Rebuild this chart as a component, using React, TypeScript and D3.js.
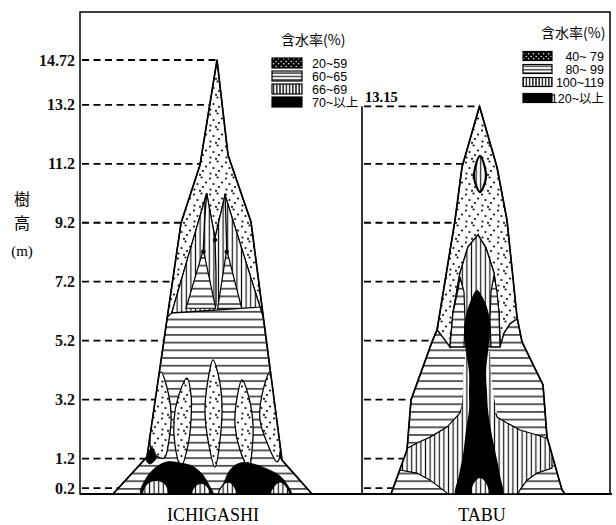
import React from "react";
import * as d3 from "d3";

type P = [number, number]; // [relative crown width unit, height in m]

// ---------- axis / labels ----------
const heightTicks = [0.2, 1.2, 3.2, 5.2, 7.2, 9.2, 11.2, 13.2, 14.72];
const heightTickLabels = ["0.2", "1.2", "3.2", "5.2", "7.2", "9.2", "11.2", "13.2", "14.72"];
const tabuGuides = [0.2, 1.2, 3.2, 5.2, 7.2, 9.2, 11.2, 13.15];
const tabuTopLabel = "13.15";
const treeNames = ["ICHIGASHI", "TABU"];
const yTitle = ["樹", "高", "(m)"];
const legendTitle = "含水率(%)";
const ichiLegend = ["20~59", "60~65", "66~69", "70~以上"];
const tabuLegend = ["40~ 79", "80~ 99", "100~119", "120~以上"];
const legendFills = ["dots", "hlines", "vlines", "solid"];

// ---------- ICHIGASHI ----------
const ichiLeft: P[] = [[-10.3, 0], [-6.9, 1.26], [-3.5, 9.19], [-1.6, 11.16], [0.1, 14.72]];
const ichiRight: P[] = [[9.6, 0], [6.6, 1.15], [4.9, 5.56], [3.5, 9.23], [1.2, 11.5], [0.1, 14.72]];
const ichiCrownDots: P[] = [
  [0.1, 14.72], [1.2, 11.5], [3.5, 9.23], [4.75, 5.97], [4.4, 6.34], [0.9, 10.14], [-0.1, 8.68],
  [-0.93, 10.2], [-4.43, 6.14], [-4.87, 6.0], [-3.5, 9.19], [-1.6, 11.16],
];
const ichiCrownVert: P[] = [[-0.93, 10.2], [-0.1, 8.68], [0.9, 10.14], [4.4, 6.34], [-4.43, 6.14]];
const ichiCrownHoriz: P[][] = [
  [[-1.27, 8.28], [-3.0, 6.3], [-0.03, 6.3]],
  [[1.07, 8.28], [0.17, 6.3], [2.57, 6.3]],
];
const ichiCrownStreaks: P[][] = [
  [[-0.93, 10.2], [-1.15, 9.2], [-1.27, 8.28]],
  [[0.9, 10.14], [1.0, 9.2], [1.07, 8.28]],
  [[-0.1, 8.68], [0.0, 7.5], [0.0, 6.38]],
];
const ichiCrownKnots: P[] = [[-1.27, 8.22], [1.07, 8.22], [-0.1, 8.62]];
const ichiFlames: P[][] = [
  [[-5.5, 4.14], [-4.9, 3.6], [-4.5, 2.78], [-4.7, 1.83], [-5.2, 1.22], [-6.4, 1.42], [-6.6, 2.17], [-6.2, 3.19]],
  [[-2.9, 3.93], [-2.5, 3.36], [-2.5, 2.51], [-2.8, 1.66], [-3.5, 0.92], [-4.1, 1.66], [-4.2, 2.51], [-3.8, 3.26]],
  [[-0.3, 4.55], [0.3, 3.93], [0.6, 3.02], [0.4, 1.83], [-0.1, 0.92], [-0.8, 1.83], [-1.1, 2.85], [-0.8, 3.87]],
  [[2.6, 3.87], [3.3, 3.26], [3.7, 2.34], [3.6, 1.49], [3.3, 0.88], [2.4, 1.49], [1.9, 2.34], [2.1, 3.26]],
  [[5.4, 4.14], [5.9, 3.36], [6.3, 2.34], [6.5, 1.49], [6.1, 1.09], [5.2, 1.66], [4.4, 2.51], [4.6, 3.36]],
];
const ichiBaseBlack: P[][] = [
  [[-7.5, 0], [-7.1, 0.47], [-6.1, 0.88], [-4.9, 1.09], [-3.6, 1.05], [-2.4, 0.95], [-1.4, 0.68], [-0.6, 0.24], [-0.3, 0]],
  [[0.6, 0], [0.9, 0.47], [1.5, 0.85], [2.4, 1.05], [3.7, 1.02], [5.1, 0.85], [6.4, 0.61], [7.2, 0.27], [7.5, 0]],
  [[-7.0, 1.15], [-6.4, 1.56], [-6.0, 1.22], [-6.6, 1.02]],
  [[6.4, 1.22], [6.7, 1.83], [7.0, 1.42], [6.8, 1.15]],
];
const ichiBaseVert: P[][] = [
  [[-7.3, 0], [-7.0, 0.31], [-6.4, 0.44], [-5.6, 0.44], [-5.0, 0.31], [-4.8, 0]],
  [[-2.4, 0], [-2.1, 0.27], [-1.5, 0.37], [-0.9, 0.27], [-0.6, 0]],
  [[0.3, 0], [0.6, 0.27], [1.2, 0.41], [1.8, 0.27], [2.0, 0]],
  [[5.5, 0], [5.8, 0.27], [6.4, 0.41], [7.0, 0.27], [7.3, 0]],
];

// ---------- TABU ----------
const tabuLeft: P[] = [[-8.8, 0], [-7.2, 1.49], [-6.8, 3.19], [-4.7, 5.16], [-4.2, 5.56], [-2.4, 9.29], [-1.7, 11.09], [0.05, 13.15]];
const tabuRight: P[] = [[8.6, 0], [8.3, 0.14], [6.8, 1.93], [6.4, 3.7], [4.3, 5.16], [3.8, 6.0], [2.8, 9.29], [1.8, 11.09], [0.05, 13.15]];
const tabuCrownDots: P[] = [
  [0.05, 13.15], [1.8, 11.09], [2.8, 9.29], [3.85, 5.96], [3.1, 5.77], [2.5, 5.46], [2.1, 4.99], [2.0, 6.14],
  [1.5, 7.5], [0.7, 8.34], [-0.1, 8.79], [-1.1, 8.38], [-1.9, 7.5], [-2.6, 6.14], [-2.9, 4.99], [-3.5, 5.26],
  [-4.1, 5.53], [-4.2, 5.56], [-2.4, 9.29], [-1.7, 11.09],
];
const tabuLens: P[] = [[0.1, 11.47], [0.6, 11.06], [0.7, 10.72], [0.1, 10.24], [-0.5, 10.72], [-0.4, 11.06]];
const tabuArch: P[] = [[-2.9, 4.99], [-2.6, 6.14], [-1.9, 7.5], [-1.1, 8.38], [-0.1, 8.79], [0.7, 8.34], [1.5, 7.5], [2.0, 6.14], [2.1, 4.99]];
const tabuArchSides: P[][] = [
  [[-1.9, 7.36], [-1.5, 6.85], [-1.4, 5.9], [-1.5, 4.99], [-2.9, 4.99], [-2.6, 6.14], [-2.1, 6.92]],
  [[1.5, 7.43], [1.2, 6.85], [1.1, 5.9], [1.2, 4.99], [2.1, 4.99], [2.0, 6.14], [1.8, 6.85]],
];
const tabuBand: P[] = [
  [-7.9, 1.42], [-6.2, 1.73], [-4.9, 1.93], [-3.2, 2.27], [-1.9, 2.75], [-1.3, 3.43], [1.1, 3.43], [1.8, 2.61],
  [2.8, 2.41], [4.1, 2.17], [5.8, 2.0], [7.3, 1.83], [7.3, 0.88], [5.8, 0.71], [4.8, 0.47], [4.1, 0.14],
  [3.8, -0.05], [-2.9, -0.05], [-3.6, 0.14], [-4.9, 0.47], [-6.2, 0.71], [-7.9, 0.81],
];
const tabuCoreHalo: P[] = [[-1.3, 4.82], [-1.6, 4.14], [-1.6, 3.46], [-1.8, 2.75], [1.8, 2.75], [1.4, 3.46], [1.2, 4.14], [1.1, 4.82]];
const tabuCore: P[] = [
  [-0.2, 6.92], [0.5, 6.58], [1.0, 6.07], [1.1, 5.5], [0.9, 4.82], [0.7, 4.14], [0.8, 3.46], [0.9, 2.85],
  [1.2, 2.17], [1.7, 1.32], [2.1, 0.64], [2.3, -0.1], [-2.3, -0.1], [-2.0, 0.64], [-1.6, 1.32], [-1.3, 2.17],
  [-1.0, 2.85], [-1.0, 3.46], [-1.0, 4.14], [-1.3, 4.82], [-1.5, 5.5], [-1.3, 6.07], [-0.8, 6.58],
];
const tabuCoreGap: P[] = [[-0.7, 0], [-0.5, 0.37], [0.1, 0.54], [0.7, 0.37], [0.9, 0]];

const dotSpots: [number, number][] = [[2, 2.5], [9.5, 1.5], [14, 6.5], [5.5, 8], [11, 11], [2.5, 13.5], [8, 14.8]];

export default function App() {
  const W = 616, H = 525;
  const y = d3.scaleLinear().domain([0, 14.72]).range([494, 60]);
  const xI = d3.scaleLinear().domain([-10, 10]).range([116, 316]);
  const xT = d3.scaleLinear().domain([-10, 10]).range([379, 579]);
  const frameLeft = 80, frameRight = 610, frameTop = 12, base = y(0);
  const tabuAxisX = 362;

  const mk = (x: d3.ScaleLinear<number, number>, curve: d3.CurveFactory = d3.curveLinearClosed) =>
    d3.line<P>().x((d) => x(d[0])).y((d) => y(d[1])).curve(curve);

  const edgeAt = (edge: P[], h: number) => {
    for (let i = 0; i < edge.length - 1; i++) {
      const a = edge[i], b = edge[i + 1];
      if (h >= a[1] && h <= b[1]) return a[0] + ((b[0] - a[0]) * (h - a[1])) / (b[1] - a[1]);
    }
    return edge[edge.length - 1][0];
  };

  const regStyle = {
    dots: { fill: "url(#dt)", stroke: "#000", strokeWidth: 1.3 },
    h: { fill: "url(#hl)", stroke: "#000", strokeWidth: 1.2 },
    v: { fill: "url(#vl)", stroke: "#000", strokeWidth: 1.2 },
    k: { fill: "#000", stroke: "#000", strokeWidth: 0.8 },
  } as const;

  const ichiOutline = [...ichiLeft, ...[...ichiRight].reverse()] as P[];
  const tabuOutline = [...tabuLeft, ...[...tabuRight].reverse()] as P[];
  const LI = mk(xI), LT = mk(xT);
  const CI = mk(xI, d3.curveCatmullRomClosed.alpha(0.5));
  const CT = mk(xT, d3.curveCatmullRomClosed.alpha(0.5));
  const openI = mk(xI, d3.curveLinear);

  const serif = "'Liberation Serif', 'DejaVu Serif', serif";
  const sans = "'Liberation Sans', 'Noto Sans CJK JP', sans-serif";
  const cjk = "'Noto Sans CJK JP', sans-serif";

  const legend = (
    items: string[], tx: number, ty: number, sx: number, sw: number, rows: number[], sh: number,
    textX: number, anchor: "start" | "end"
  ) => (
    <g>
      <text x={tx} y={ty} fontFamily={cjk} fontSize={14} fill="#000">{legendTitle}</text>
      {items.map((t, i) => (
        <g key={t}>
          <rect x={sx} y={rows[i] - sh / 2} width={sw} height={sh}
            fill={legendFills[i] === "dots" ? "url(#dtInv)" : legendFills[i] === "hlines" ? "url(#hlLeg)" : legendFills[i] === "vlines" ? "url(#vlLeg)" : "#000"}
            stroke="#000" strokeWidth={1.2} />
          <text x={textX} y={rows[i] + 4.5} fontFamily={sans} fontSize={12.5} textAnchor={anchor} fill="#000">{t}</text>
        </g>
      ))}
    </g>
  );

  return (
    <svg width={W} height={H} style={{ position: "absolute", left: 0, top: 0, background: "#fff" }}>
      <defs>
        <pattern id="hl" width="8" height="7.7" patternUnits="userSpaceOnUse">
          <rect width="8" height="7.7" fill="#fff" />
          <line x1="0" x2="8" y1="3.8" y2="3.8" stroke="#111" strokeWidth="1.35" />
        </pattern>
        <pattern id="vl" width="4.6" height="8" patternUnits="userSpaceOnUse">
          <rect width="4.6" height="8" fill="#fff" />
          <line x1="2.3" x2="2.3" y1="0" y2="8" stroke="#111" strokeWidth="1.2" />
        </pattern>
        <pattern id="dt" width="16" height="16" patternUnits="userSpaceOnUse">
          <rect width="16" height="16" fill="#fff" />
          {dotSpots.map((d, i) => <circle key={i} cx={d[0]} cy={d[1]} r={1.1} fill="#111" />)}
        </pattern>
        <pattern id="dtInv" width="5" height="5" patternUnits="userSpaceOnUse">
          <rect width="5" height="5" fill="#000" />
          <circle cx="1.2" cy="1.5" r="0.75" fill="#fff" />
          <circle cx="3.6" cy="3.8" r="0.75" fill="#fff" />
        </pattern>
        <pattern id="hlLeg" width="6" height="3.4" patternUnits="userSpaceOnUse">
          <rect width="6" height="3.4" fill="#fff" />
          <line x1="0" x2="6" y1="1.7" y2="1.7" stroke="#000" strokeWidth="1.1" />
        </pattern>
        <pattern id="vlLeg" width="3.2" height="6" patternUnits="userSpaceOnUse">
          <rect width="3.2" height="6" fill="#fff" />
          <line x1="1.6" x2="1.6" y1="0" y2="6" stroke="#000" strokeWidth="1.3" />
        </pattern>
        <clipPath id="clipI"><path d={LI(ichiOutline) || ""} /></clipPath>
        <clipPath id="clipT"><path d={LT(tabuOutline) || ""} /></clipPath>
      </defs>

      {/* frame */}
      <rect x={frameLeft} y={frameTop} width={frameRight - frameLeft} height={base - frameTop} fill="none" stroke="#000" strokeWidth={1.5} />
      <line x1={frameLeft} x2={frameRight + 2} y1={base} y2={base} stroke="#000" strokeWidth={2} />
      <line x1={tabuAxisX} x2={tabuAxisX} y1={y(13.15)} y2={base} stroke="#000" strokeWidth={1.6} />

      {/* y axis labels */}
      {heightTicks.map((h, i) => (
        <text key={h} x={75} y={y(h) + 5.5} textAnchor="end" fontFamily={serif} fontWeight="bold" fontSize={16} fill="#111">
          {heightTickLabels[i]}
        </text>
      ))}
      <text x={22} y={205} textAnchor="middle" fontFamily={cjk} fontSize={16}>{yTitle[0]}</text>
      <text x={22} y={229} textAnchor="middle" fontFamily={cjk} fontSize={16}>{yTitle[1]}</text>
      <text x={22} y={256} textAnchor="middle" fontFamily={serif} fontSize={15}>{yTitle[2]}</text>

      {/* guide dashes */}
      {heightTicks.map((h) => (
        <line key={"gi" + h} x1={frameLeft + 2} x2={xI(edgeAt(ichiLeft, h))} y1={y(h)} y2={y(h)}
          stroke="#000" strokeWidth={1.8} strokeDasharray="7 4.5" />
      ))}
      {tabuGuides.map((h) => (
        <line key={"gt" + h} x1={tabuAxisX + 2} x2={xT(edgeAt(tabuLeft, h))} y1={y(h)} y2={y(h)}
          stroke="#000" strokeWidth={1.8} strokeDasharray="7 4.5" />
      ))}
      <text x={tabuAxisX + 3} y={y(13.15) - 4} fontFamily={serif} fontWeight="bold" fontSize={14.5}>{tabuTopLabel}</text>

      {/* ICHIGASHI */}
      <g>
        <path d={LI(ichiOutline) || ""} {...regStyle.h} />
        <g clipPath="url(#clipI)">
          <path d={LI(ichiCrownDots) || ""} {...regStyle.dots} />
          <path d={LI(ichiCrownVert) || ""} {...regStyle.v} />
          {ichiCrownHoriz.map((p, i) => <path key={i} d={LI(p) || ""} {...regStyle.h} />)}
          {ichiCrownStreaks.map((p, i) => <path key={i} d={openI(p) || ""} fill="none" stroke="#000" strokeWidth={1.3} />)}
          {ichiCrownKnots.map((p, i) => <circle key={i} cx={xI(p[0])} cy={y(p[1])} r={2.2} fill="#000" />)}
          {ichiFlames.map((p, i) => <path key={i} d={CI(p) || ""} {...regStyle.dots} />)}
          {ichiBaseBlack.map((p, i) => <path key={i} d={CI(p) || ""} {...regStyle.k} />)}
          {ichiBaseVert.map((p, i) => <path key={i} d={CI(p) || ""} {...regStyle.v} />)}
        </g>
        <path d={LI(ichiOutline) || ""} fill="none" stroke="#000" strokeWidth={1.7} strokeLinejoin="round" />
      </g>

      {/* TABU */}
      <g>
        <path d={LT(tabuOutline) || ""} {...regStyle.h} />
        <g clipPath="url(#clipT)">
          <path d={LT(tabuCrownDots) || ""} {...regStyle.dots} strokeWidth={1.5} />
          <path d={CT(tabuLens) || ""} {...regStyle.v} strokeWidth={2.2} />
          <path d={LT(tabuArch) || ""} {...regStyle.v} />
          {tabuArchSides.map((p, i) => <path key={i} d={LT(p) || ""} {...regStyle.h} />)}
          <path d={LT(tabuBand) || ""} {...regStyle.v} />
          <path d={LT(tabuCoreHalo) || ""} fill="url(#vl)" stroke="none" />
          <path d={CT(tabuCore) || ""} fill="#000" />
          <path d={CT(tabuCoreGap) || ""} fill="url(#vl)" stroke="none" />
        </g>
        <path d={LT(tabuOutline) || ""} fill="none" stroke="#000" strokeWidth={1.7} strokeLinejoin="round" />
      </g>

      {/* legends */}
      {legend(ichiLegend, 281, 45, 272, 30, [63, 76, 89, 102], 10, 312, "start")}
      {legend(tabuLegend, 541, 38, 523, 29, [56, 69, 82, 98], 9, 604, "end")}

      {/* tree names */}
      <text x={xI(-0.3)} y={521} textAnchor="middle" fontFamily={serif} fontSize={18}>{treeNames[0]}</text>
      <text x={xT(0.3)} y={521} textAnchor="middle" fontFamily={serif} fontSize={18}>{treeNames[1]}</text>
    </svg>
  );
}
